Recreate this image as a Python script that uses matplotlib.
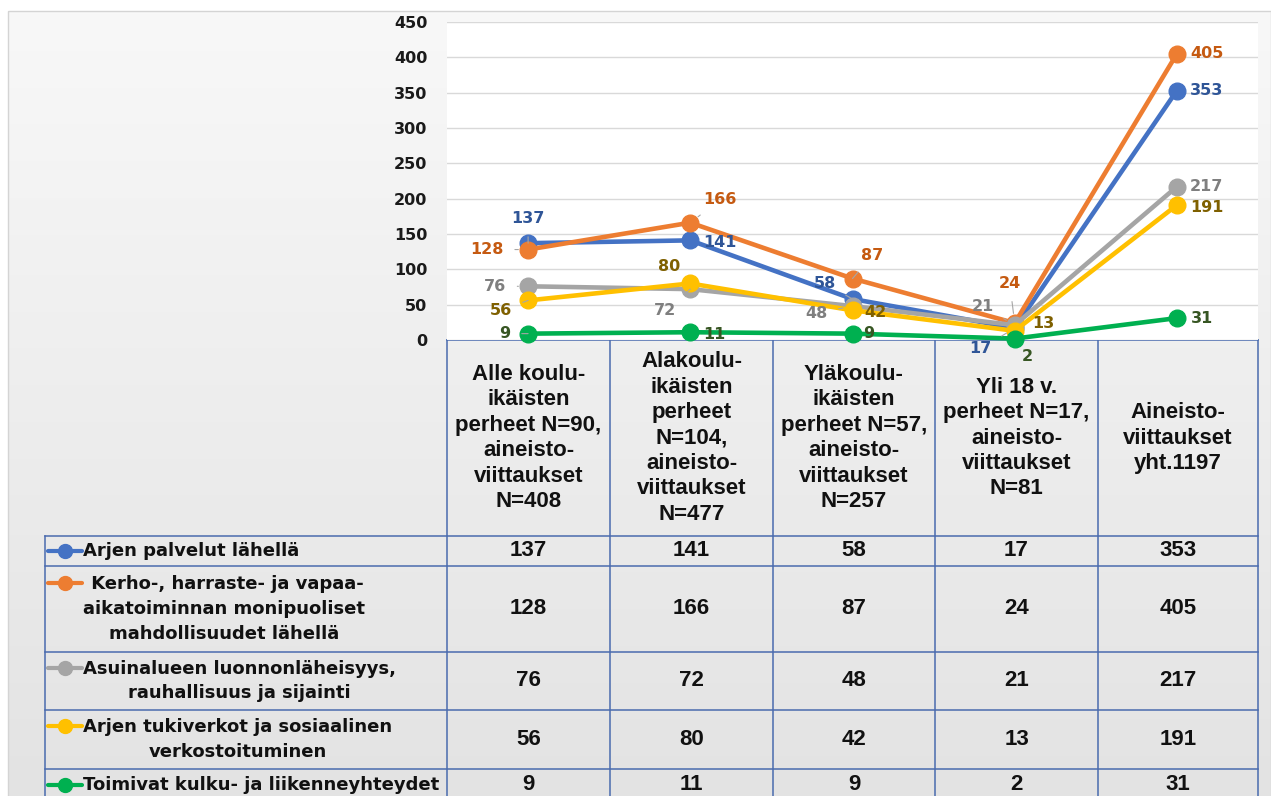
import matplotlib
matplotlib.use("Agg")
import matplotlib.pyplot as plt
import numpy as np
from matplotlib.patches import Rectangle

# --- data -------------------------------------------------------------------
categories = [
    "Alle koulu-\nikäisten\nperheet N=90,\naineisto-\nviittaukset\nN=408",
    "Alakoulu-\nikäisten\nperheet\nN=104,\naineisto-\nviittaukset\nN=477",
    "Yläkoulu-\nikäisten\nperheet N=57,\naineisto-\nviittaukset\nN=257",
    "Yli 18 v.\nperheet N=17,\naineisto-\nviittaukset\nN=81",
    "Aineisto-\nviittaukset\nyht.1197",
]
series_names = [
    "Arjen palvelut lähellä",
    " Kerho-, harraste- ja vapaa-\naikatoiminnan monipuoliset\nmahdollisuudet lähellä",
    "Asuinalueen luonnonläheisyys,\nrauhallisuus ja sijainti",
    "Arjen tukiverkot ja sosiaalinen\nverkostoituminen",
    "Toimivat kulku- ja liikenneyhteydet",
]
arjen_palvelut = [137, 141, 58, 17, 353]
kerho_harraste = [128, 166, 87, 24, 405]
luonnonlaheisyys = [76, 72, 48, 21, 217]
tukiverkot = [56, 80, 42, 13, 191]
kulkuyhteydet = [9, 11, 9, 2, 31]
series_values = [arjen_palvelut, kerho_harraste, luonnonlaheisyys, tukiverkot, kulkuyhteydet]
y_ticks = [0, 50, 100, 150, 200, 250, 300, 350, 400, 450]

# --- style ------------------------------------------------------------------
line_colors = ["#4472C4", "#ED7D31", "#A5A5A5", "#FFC000", "#00B050"]
label_colors = ["#2F5597", "#C55A11", "#7F7F7F", "#7F6000", "#375623"]
# data label offsets in pixels (dx, dy up) and whether a leader line is shown
label_offsets = [
    [(0, 25), (30, -2), (-28, 16), (-34, -21), (30, 0)],
    [(-41, 0), (30, 23), (20, 23), (-5, 40), (30, 0)],
    [(-33, 0), (-25, -21), (-36, -7), (-32, 19), (30, 0)],
    [(-27, -10), (-21, 17), (23, -2), (29, 7), (30, -2)],
    [(-23, 0), (24, -2), (16, 0), (13, -18), (25, 0)],
]
leaders = [
    [True, False, True, True, False],
    [True, True, True, True, False],
    [True, True, True, True, False],
    [True, False, False, False, False],
    [True, False, False, False, False],
]
TABLE_BLUE = "#4A6BAE"
W, H = 1271, 796
col_edges = [447, 610, 773, 935, 1098, 1258]
row_edges = [536, 566, 652, 710, 769, 801]
header_top = 340
legend_left = 45

fig = plt.figure(figsize=(W / 100, H / 100), dpi=100)
fig.patch.set_facecolor("white")

# background / table layer in pixel coordinates
bg = fig.add_axes([0, 0, 1, 1])
bg.set_xlim(0, W)
bg.set_ylim(H, 0)
bg.axis("off")
grad = np.linspace(0, 1, 256)[:, None]
bg.imshow(grad, cmap=matplotlib.colors.LinearSegmentedColormap.from_list(
    "g", ["#f8f8f8", "#e3e3e3"]), extent=(8, W, H, 11), aspect="auto", zorder=0)
bg.add_patch(Rectangle((8, 11), W - 8, H, fill=False, ec="#d4d4d4", lw=1, zorder=1))

# table grid
for x in col_edges:
    bg.plot([x, x], [header_top, H], color=TABLE_BLUE, lw=1.1, zorder=2)
bg.plot([legend_left, legend_left], [row_edges[0], H], color=TABLE_BLUE, lw=1.1, zorder=2)
bg.plot([col_edges[0], col_edges[-1]], [header_top, header_top], color=TABLE_BLUE, lw=1.1, zorder=2)
for y in row_edges[:-1]:
    bg.plot([legend_left, col_edges[-1]], [y, y], color=TABLE_BLUE, lw=1.1, zorder=2)

col_centers = [(a + b) / 2 for a, b in zip(col_edges[:-1], col_edges[1:])]
hdr_font = ["Liberation Sans Narrow", "Liberation Sans", "DejaVu Sans"]
for cx, txt in zip(col_centers, categories):
    bg.text(cx, (header_top + row_edges[0]) / 2, txt, ha="center", va="center",
            multialignment="center", fontsize=16, fontweight="bold",
            family=hdr_font, color="#111111", linespacing=1.28, zorder=3)

for i, (name, vals) in enumerate(zip(series_names, series_values)):
    top, bot = row_edges[i], row_edges[i + 1]
    cy = (top + bot) / 2
    nlines = name.count("\n") + 1
    first_y = cy - (nlines - 1) * 26.5 / 2
    bg.plot([48, 82], [first_y, first_y], color=line_colors[i], lw=3, zorder=3,
            solid_capstyle="round")
    bg.plot([65], [first_y], "o", color=line_colors[i], ms=10, zorder=4)
    bg.text(83, cy, name, ha="left", va="center", multialignment="center",
            fontsize=13, fontweight="bold", color="#111111", linespacing=1.5, zorder=3)
    for cx, v in zip(col_centers, vals):
        bg.text(cx, cy, str(v), ha="center", va="center", fontsize=16,
                fontweight="bold", family=hdr_font, color="#111111", zorder=3)

# chart area
ax = fig.add_axes([col_edges[0] / W, 1 - header_top / H,
                   (col_edges[-1] - col_edges[0]) / W, (header_top - 22) / H])
ax.set_facecolor("white")
ax.set_xlim(-0.5, len(categories) - 0.5)
ax.set_ylim(0, 450)
ax.set_yticks(y_ticks)
ax.set_yticklabels([str(t) for t in y_ticks], fontsize=11.5, fontweight="bold", color="#1a1a1a")
ax.tick_params(axis="y", length=0, pad=14)
ax.set_xticks([])
ax.grid(axis="y", color="#d9d9d9", lw=1)
ax.set_axisbelow(True)
for s in ax.spines.values():
    s.set_visible(False)

x = np.arange(len(categories))
for i, vals in enumerate(series_values):
    ax.plot(x, vals, color=line_colors[i], lw=3.3, marker="o", ms=12,
            clip_on=False, zorder=3 + i)
    for j, v in enumerate(vals):
        dx, dy = label_offsets[i][j]
        arrow = dict(arrowstyle="-", color="#a6a6a6", lw=0.8, shrinkA=6, shrinkB=7) \
            if leaders[i][j] else None
        ax.annotate(str(v), (x[j], v), xytext=(dx, dy), textcoords="offset pixels",
                    ha="center", va="center", fontsize=11.5, fontweight="bold",
                    color=label_colors[i], annotation_clip=False, arrowprops=arrow,
                    zorder=10)

fig.savefig("out.png", dpi=100)
